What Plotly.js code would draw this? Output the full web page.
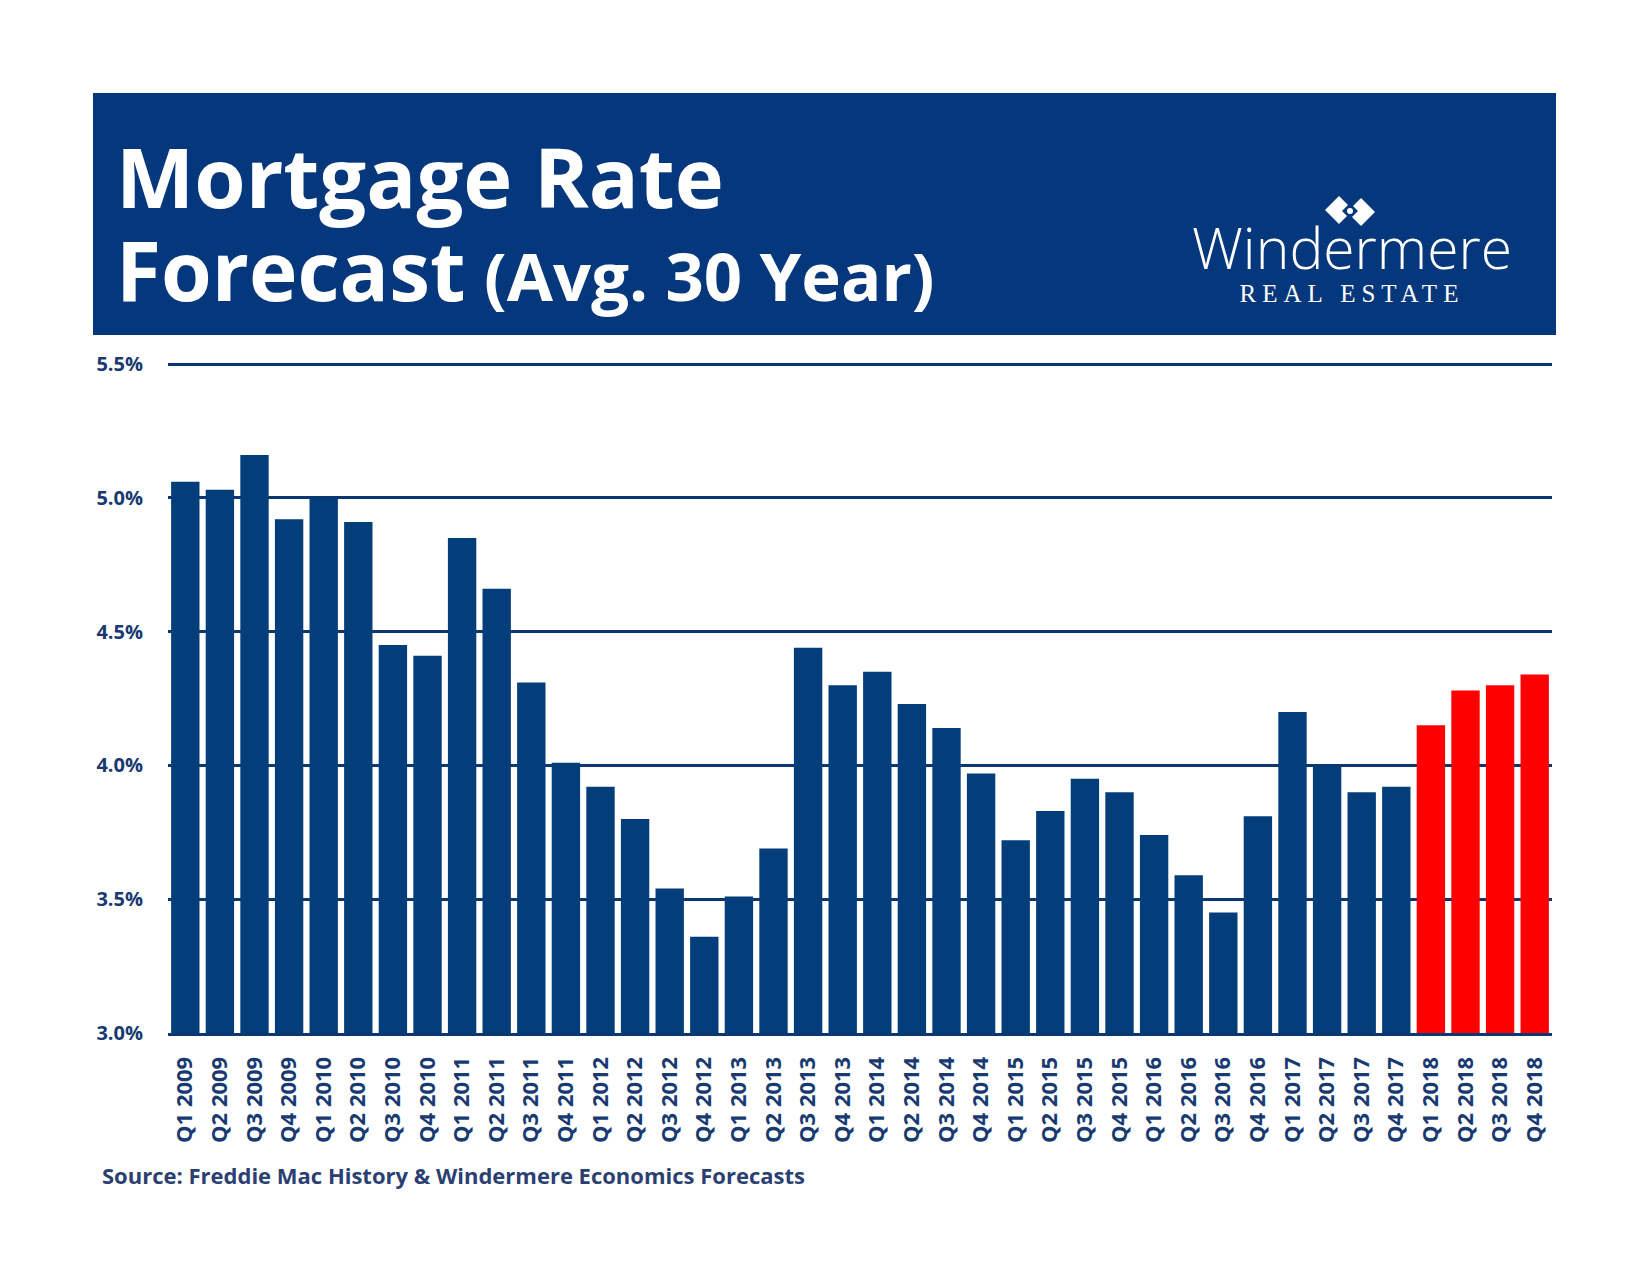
<!DOCTYPE html>
<html>
<head>
<meta charset="utf-8">
<script src="https://cdn.plot.ly/plotly-3.0.1.min.js"></script>
<style>
  html, body { margin: 0; padding: 0; background: #ffffff; }
  #chart { width: 1650px; height: 1275px; }
</style>
</head>
<body>
<div id="chart"></div>
<script>
// ---------- DATA ----------
const historyQuarters = [
  "Q1 2009","Q2 2009","Q3 2009","Q4 2009",
  "Q1 2010","Q2 2010","Q3 2010","Q4 2010",
  "Q1 2011","Q2 2011","Q3 2011","Q4 2011",
  "Q1 2012","Q2 2012","Q3 2012","Q4 2012",
  "Q1 2013","Q2 2013","Q3 2013","Q4 2013",
  "Q1 2014","Q2 2014","Q3 2014","Q4 2014",
  "Q1 2015","Q2 2015","Q3 2015","Q4 2015",
  "Q1 2016","Q2 2016","Q3 2016","Q4 2016",
  "Q1 2017","Q2 2017","Q3 2017","Q4 2017"
];
const historyRates = [
  5.06, 5.03, 5.16, 4.92,
  5.00, 4.91, 4.45, 4.41,
  4.85, 4.66, 4.31, 4.01,
  3.92, 3.80, 3.54, 3.36,
  3.51, 3.69, 4.44, 4.30,
  4.35, 4.23, 4.14, 3.97,
  3.72, 3.83, 3.95, 3.90,
  3.74, 3.59, 3.45, 3.81,
  4.20, 4.00, 3.90, 3.92
];
const forecastQuarters = ["Q1 2018","Q2 2018","Q3 2018","Q4 2018"];
const forecastRates = [4.15, 4.28, 4.30, 4.34];

const yTickValues = [3.0, 3.5, 4.0, 4.5, 5.0, 5.5];
const yTickLabels = ["3.0%", "3.5%", "4.0%", "4.5%", "5.0%", "5.5%"];

const titleLine1 = "Mortgage Rate";
const titleLine2 = "Forecast";
const titleSub = "(Avg. 30 Year)";
const sourceText = "Source: Freddie Mac History & Windermere Economics Forecasts";
const logoName = "Windermere";
const logoTag = "REAL ESTATE";

// ---------- STYLE ----------
const NAVY = "#033d7a";
const HEADER = "#05377c";
const GRID = "#0d3770";
const TEXT = "#183a70";
const RED = "#ff0000";

const FIG_W = 1650, FIG_H = 1275;
const M = { l: 168, r: 98, t: 363, b: 242 };
const PW = FIG_W - M.l - M.r, PH = FIG_H - M.t - M.b;
const PX = x => (x - M.l) / PW;
const PY = y => (FIG_H - M.b - y) / PH;

function poly(points) {
  return points.map((p, i) => (i ? "L" : "M") + PX(p[0]).toFixed(5) + "," + PY(p[1]).toFixed(5)).join(" ") + " Z";
}

const traces = [
  {
    type: "bar", x: historyQuarters, y: historyRates,
    marker: { color: NAVY, line: { width: 0 } },
    hoverinfo: "skip", showlegend: false
  },
  {
    type: "bar", x: forecastQuarters, y: forecastRates,
    marker: { color: RED, line: { width: 0 } },
    hoverinfo: "skip", showlegend: false
  }
];

const shapes = [
  // header band
  { type: "rect", xref: "paper", yref: "paper", layer: "below",
    x0: PX(93), x1: PX(1556), y0: PY(335), y1: PY(93),
    fillcolor: HEADER, line: { width: 0 } },
  // logo diamonds
  { type: "path", xref: "paper", yref: "paper", layer: "above",
    path: poly([[1339,196],[1353,210],[1339,224],[1325,210]]),
    fillcolor: "#ffffff", line: { width: 0 } },
  { type: "path", xref: "paper", yref: "paper", layer: "above",
    path: poly([[1361,198],[1375,212],[1361,226],[1347,212]]),
    fillcolor: "#ffffff", line: { width: 0 } },
  { type: "path", xref: "paper", yref: "paper", layer: "above",
    path: poly([[1350,203],[1358,211],[1350,219],[1342,211]]),
    fillcolor: HEADER, line: { width: 0 } },
  { type: "circle", xref: "paper", yref: "paper", layer: "above",
    x0: PX(1347), x1: PX(1353), y0: PY(214), y1: PY(208),
    fillcolor: "#ffffff", line: { width: 0 } }
];

const annotations = [
  // two-line title in one block; base size sets the line pitch, spans set glyph size
  { xref: "paper", yref: "paper", x: PX(114), y: PY(222), xanchor: "left", yanchor: "middle",
    align: "left",
    text: "<span style='font-size:83px'>" + titleLine1 + "</span><br>" +
          "<span style='font-size:82px'>" + titleLine2 + "</span> <span style='font-size:67px'>" + titleSub + "</span>",
    showarrow: false,
    font: { family: "Open Sans", size: 71.5, weight: 700, color: "#ffffff" } },
  // logo wordmark, two lines in one block
  { xref: "paper", yref: "paper", x: PX(1352), y: PY(257), xanchor: "center", yanchor: "middle",
    align: "center",
    text: "<span style='font-size:57px;font-weight:300;font-family:\"Open Sans\"'>" + logoName + "</span><br>" +
          "<span style='font-size:25px;font-weight:400;font-family:\"Liberation Serif\";letter-spacing:6px'>" + logoTag + "</span>",
    showarrow: false,
    font: { family: "Open Sans", size: 25.6, weight: 300, color: "#ffffff" } },
  { xref: "paper", yref: "paper", x: PX(100), y: PY(1175), xanchor: "left", yanchor: "middle",
    text: sourceText, showarrow: false,
    font: { family: "Open Sans", size: 22, weight: 700, color: "#2b3f72" } }
];

const layout = {
  width: FIG_W, height: FIG_H,
  margin: M,
  paper_bgcolor: "#ffffff", plot_bgcolor: "#ffffff",
  barmode: "overlay",
  bargap: 0.18,
  showlegend: false,
  hovermode: false,
  xaxis: {
    type: "category",
    tickangle: -90,
    showgrid: false, zeroline: false,
    showline: true, linecolor: GRID, linewidth: 3,
    ticks: "outside", ticklen: 12, tickcolor: "rgba(0,0,0,0)",
    tickfont: { family: "Open Sans", size: 22, weight: 700, color: TEXT },
    fixedrange: true
  },
  yaxis: {
    range: [3.0, 5.504],
    tickmode: "array",
    tickvals: yTickValues,
    ticktext: yTickLabels,
    showgrid: true, gridcolor: GRID, gridwidth: 3,
    zeroline: false, showline: false,
    ticks: "outside", ticklen: 20, tickcolor: "rgba(0,0,0,0)",
    tickfont: { family: "Open Sans", size: 20, weight: 700, color: TEXT },
    fixedrange: true
  },
  shapes: shapes,
  annotations: annotations
};

Plotly.newPlot("chart", traces, layout, { displayModeBar: false, staticPlot: true });
</script>
</body>
</html>
